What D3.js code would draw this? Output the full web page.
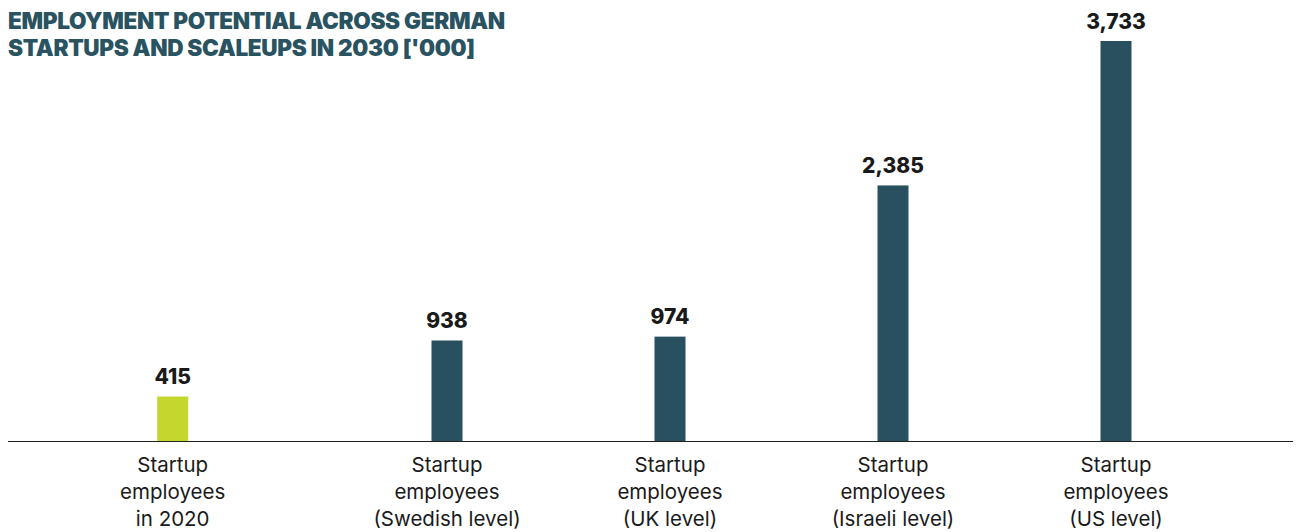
<!DOCTYPE html>
<html>
<head>
<meta charset="utf-8">
<script src="https://cdn.jsdelivr.net/npm/d3@7"></script>
<style>
  html, body { margin: 0; padding: 0; background: #fff; }
  svg { display: block; }
</style>
</head>
<body>
<svg id="chart" width="1299" height="532"></svg>
<script>
// Employment figures in thousands
const categories = [
  ["Startup", "employees", "in 2020"],
  ["Startup", "employees", "(Swedish level)"],
  ["Startup", "employees", "(UK level)"],
  ["Startup", "employees", "(Israeli level)"],
  ["Startup", "employees", "(US level)"]
];
const values = [415, 938, 974, 2385, 3733];
const valueLabels = ["415", "938", "974", "2,385", "3,733"];
const titleLines = ["EMPLOYMENT POTENTIAL ACROSS GERMAN", "STARTUPS AND SCALEUPS IN 2030 ['000]"];

const W = 1299, H = 532;
const baseY = 441;
const svg = d3.select("#chart");

const teal = "#28505e";
const lime = "#c3d72f";

// Scenario bars are evenly spaced; the 2020 bar sits a bit further apart
const x = d3.scalePoint()
  .domain([1, 2, 3, 4])
  .range([447, 1116]);
const xPos = i => i === 0 ? x(1) - x.step() * 1.23 : x(i);

const y = d3.scaleLinear()
  .domain([0, 3733])
  .range([baseY, 41]);

const barW = 31;

svg.append("g")
  .selectAll("text")
  .data(titleLines)
  .join("text")
  .attr("x", 8)
  .attr("y", (d, i) => 29 + i * 27)
  .attr("fill", "#2a5362")
  .attr("font-family", "Inter, 'Noto Sans', sans-serif")
  .attr("font-weight", 900)
  .attr("font-size", 22.6)
  .attr("letter-spacing", -0.35)
  .text(d => d);

svg.append("g")
  .selectAll("rect")
  .data(values)
  .join("rect")
  .attr("x", (d, i) => xPos(i) - barW / 2)
  .attr("y", d => y(d))
  .attr("width", barW)
  .attr("height", d => baseY - y(d))
  .attr("fill", (d, i) => i === 0 ? lime : teal);

svg.append("g")
  .selectAll("text")
  .data(values)
  .join("text")
  .attr("x", (d, i) => xPos(i))
  .attr("y", d => y(d) - 12.5)
  .attr("text-anchor", "middle")
  .attr("fill", "#1a1a1a")
  .attr("font-family", "Inter, 'Noto Sans', sans-serif")
  .attr("font-weight", 800)
  .attr("font-size", 21)
  .text((d, i) => valueLabels[i]);

// Baseline
svg.append("line")
  .attr("x1", 8).attr("x2", 1293)
  .attr("y1", baseY + 0.5).attr("y2", baseY + 0.5)
  .attr("stroke", "#222")
  .attr("stroke-width", 1.2);

const lab = svg.append("g")
  .selectAll("text")
  .data(categories)
  .join("text")
  .attr("x", (d, i) => xPos(i))
  .attr("y", 472)
  .attr("text-anchor", "middle")
  .attr("fill", "#1a1a1a")
  .attr("font-family", "Inter, 'Noto Sans', sans-serif")
  .attr("font-size", 20.5)
  .attr("font-weight", 400);

lab.selectAll("tspan")
  .data(d => d)
  .join("tspan")
  .attr("x", function () { return d3.select(this.parentNode).attr("x"); })
  .attr("dy", (d, i) => i === 0 ? 0 : 27)
  .text(d => d);
</script>
</body>
</html>
